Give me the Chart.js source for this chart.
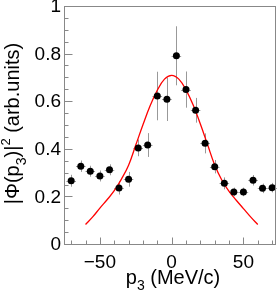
<!DOCTYPE html>
<html>
<head>
<meta charset="utf-8">
<script src="https://cdn.jsdelivr.net/npm/chart.js@4"></script>
<style>
html, body { margin: 0; padding: 0; background: #fff; }
#wrap { width: 280px; height: 296px; position: relative; }
</style>
</head>
<body>
<div id="wrap"><canvas id="myChart"></canvas></div>
<script>
// measured points (bin centres, MeV/c)
var pValues = [-70, -63.3, -56.7, -50, -43.3, -36.7, -30, -23.3, -16.7, -10, -3.3,
               3.3, 10, 16.7, 23.3, 30, 36.7, 43.3, 50, 56.7, 63.3, 70];
var phiValues = [0.270, 0.331, 0.310, 0.290, 0.316, 0.240, 0.276, 0.408, 0.420, 0.626, 0.612,
                 0.795, 0.653, 0.566, 0.427, 0.329, 0.259, 0.223, 0.223, 0.272, 0.238, 0.241];
var phiErrors = [0.025, 0.024, 0.023, 0.023, 0.023, 0.028, 0.031, 0.035, 0.050, 0.102, 0.091,
                 0.124, 0.076, 0.052, 0.042, 0.028, 0.025, 0.018, 0.018, 0.022, 0.020, 0.020];
var pHalfBin = 3.33;

// fit curve
var fitP   = [-60, -55, -50, -45, -40, -35, -30, -25, -20, -15, -10, -5, 0,
              5, 10, 15, 20, 25, 30, 35, 40, 45, 50, 55, 60];
var fitPhi = [0.086, 0.118, 0.155, 0.190, 0.228, 0.277, 0.335, 0.420, 0.505, 0.585, 0.650, 0.697, 0.713,
              0.697, 0.652, 0.588, 0.508, 0.422, 0.336, 0.272, 0.225, 0.188, 0.153, 0.118, 0.086];

var xTickValues = [-50, 0, 50];
var yTickValues = [0, 0.2, 0.4, 0.6, 0.8, 1];

var font = "'Liberation Sans', Arial, Helvetica, sans-serif";

function drawRich(ctx, parts, x, y) {
    var total = 0;
    parts.forEach(function (p) {
        ctx.font = p.size + 'px ' + font;
        p.w = ctx.measureText(p.t).width;
        total += p.w;
    });
    var cx = x - total / 2;
    ctx.textAlign = 'left';
    ctx.textBaseline = 'alphabetic';
    parts.forEach(function (p) {
        ctx.font = p.size + 'px ' + font;
        ctx.fillText(p.t, cx, y + (p.dy || 0));
        cx += p.w;
    });
}

var rootFrame = {
    id: 'rootFrame',
    beforeDatasetsDraw: function (chart) {
        var ctx = chart.ctx, xs = chart.scales.x, ys = chart.scales.y;
        ctx.save();
        ctx.strokeStyle = '#999';
        ctx.lineWidth = 1;
        for (var i = 0; i < pValues.length; i++) {
            var px = Math.round(xs.getPixelForValue(pValues[i])) + 0.5;
            var py = Math.round(ys.getPixelForValue(phiValues[i])) + 0.5;
            ctx.beginPath();
            ctx.moveTo(px, ys.getPixelForValue(phiValues[i] - phiErrors[i]));
            ctx.lineTo(px, ys.getPixelForValue(phiValues[i] + phiErrors[i]));
            ctx.moveTo(xs.getPixelForValue(pValues[i] - pHalfBin), py);
            ctx.lineTo(xs.getPixelForValue(pValues[i] + pHalfBin), py);
            ctx.stroke();
        }
        ctx.restore();
    },
    afterDraw: function (chart) {
        var ctx = chart.ctx, a = chart.chartArea, xs = chart.scales.x, ys = chart.scales.y;
        ctx.save();
        ctx.strokeStyle = '#888';
        ctx.lineWidth = 1;
        var l = Math.round(a.left) + 0.5, r = Math.round(a.right) + 0.5;
        var t = Math.round(a.top) - 0.5, b = Math.round(a.bottom) - 0.5;
        ctx.strokeRect(l, t, r - l, b - t);
        ctx.beginPath();
        // y ticks, inward
        for (var v = 0; v <= 1.0001; v += 0.05) {
            var y = Math.round(ys.getPixelForValue(v)) - 0.5;
            var major = Math.abs(v / 0.2 - Math.round(v / 0.2)) < 1e-6;
            ctx.moveTo(l, y);
            ctx.lineTo(l + (major ? 8 : 4), y);
        }
        // x ticks, inward
        for (var p = -70; p <= 70; p += 10) {
            var x = Math.round(xs.getPixelForValue(p)) + 0.5;
            ctx.moveTo(x, b);
            ctx.lineTo(x, b - (p % 50 === 0 ? 7 : 4));
        }
        ctx.stroke();

        // axis titles
        ctx.fillStyle = '#000';
        drawRich(ctx, [
            { t: 'p', size: 20 },
            { t: '3', size: 14, dy: 6 },
            { t: ' (MeV/c)', size: 20 }
        ], 173, 284);

        ctx.translate(19, 123.5);
        ctx.rotate(-Math.PI / 2);
        drawRich(ctx, [
            { t: '|\u03a6(p', size: 20 },
            { t: '3', size: 14, dy: 7 },
            { t: ')|', size: 20 },
            { t: '2', size: 13, dy: -9 },
            { t: ' (arb.units)', size: 20 }
        ], 0, 0);
        ctx.restore();
    }
};

var chart1 = document.getElementById('myChart');
var myChart = new Chart(chart1, {
    type: 'scatter',
    data: {
        datasets: [{
            label: 'data',
            data: pValues.map(function (p, i) { return { x: p, y: phiValues[i] }; }),
            backgroundColor: '#000',
            borderColor: '#000',
            borderWidth: 0,
            pointRadius: 3.5,
            pointHoverRadius: 3.5,
            order: 0
        }, {
            label: 'fit',
            data: fitP.map(function (p, i) { return { x: p, y: fitPhi[i] }; }),
            showLine: true,
            borderColor: '#ff0000',
            borderWidth: 1.3,
            pointRadius: 0,
            tension: 0.4,
            fill: false,
            order: 1
        }]
    },
    options: {
        responsive: true,
        maintainAspectRatio: false,
        animation: false,
        layout: { padding: { left: 0, top: 7, right: 5, bottom: 0 } },
        plugins: { legend: { display: false }, tooltip: { enabled: false } },
        scales: {
            x: {
                type: 'linear',
                min: -75,
                max: 72,
                grid: { display: false, drawTicks: false },
                border: { display: false },
                ticks: {
                    color: '#000',
                    font: { family: font, size: 19 },
                    padding: 6,
                    maxRotation: 0,
                    callback: function (v) { return v < 0 ? '\u2212' + Math.abs(v) : String(v); }
                },
                afterBuildTicks: function (s) { s.ticks = xTickValues.map(function (v) { return { value: v }; }); },
                afterFit: function (s) { s.height = 51; s.paddingLeft = 0; s.paddingRight = 0; }
            },
            y: {
                min: 0,
                max: 1,
                grid: { display: false, drawTicks: false },
                border: { display: false },
                ticks: {
                    color: '#000',
                    font: { family: font, size: 19 },
                    padding: 3,
                    callback: function (v) { return String(Math.round(v * 10) / 10); }
                },
                afterBuildTicks: function (s) { s.ticks = yTickValues.map(function (v) { return { value: v }; }); },
                afterFit: function (s) { s.width = 64; s.paddingTop = 0; s.paddingBottom = 0; }
            }
        }
    },
    plugins: [rootFrame]
});
</script>
</body>
</html>
